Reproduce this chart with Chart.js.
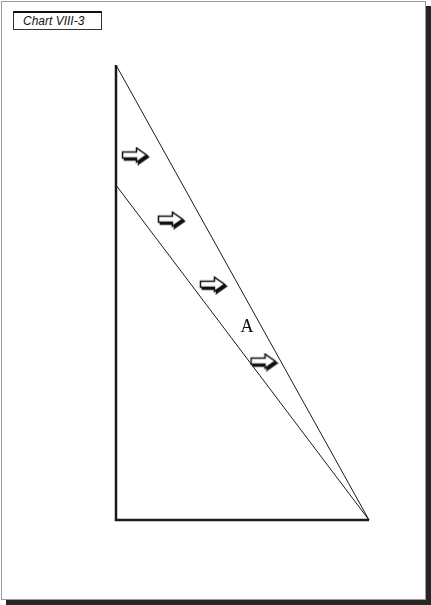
<!DOCTYPE html>
<html>
<head>
<meta charset="utf-8">
<script src="https://cdn.jsdelivr.net/npm/chart.js@4"></script>
<style>
  html, body { margin: 0; padding: 0; background: #fff; }
  #page {
    position: absolute; left: 1px; top: 1px; width: 425px; height: 599px;
    box-sizing: border-box; border: 1px solid #9a9a9a; background: #fff;
    box-shadow: 5px 5px 0 #262626;
  }
  #tag {
    position: absolute; left: 13px; top: 11px; width: 89px; height: 19px;
    box-sizing: border-box; border: 1px solid #333; border-top: 2px solid #111;
    font: italic 12px "Liberation Sans", Arial, sans-serif; color: #111;
    padding-left: 9px; line-height: 16px;
  }
  #wrap { position: absolute; left: 0; top: 0; width: 431px; height: 605px; }
</style>
</head>
<body>
<div id="page"></div>
<div id="tag">Chart VIII-3</div>
<div id="wrap"><canvas id="chartViii3"></canvas></div>
<script>
// Data (x = horizontal share, y = vertical share, both 0..10)
const axisPoints  = [[0, 10], [0, 0], [10, 0]];
const outerLine   = [[0, 10], [10, 0]];
const innerLine   = [[0, 7.36], [10, 0]];
const arrowPoints = [[0.77, 8.0], [2.19, 6.59], [3.85, 5.16], [5.85, 3.47]];
const labelText   = ['A'];
const labelPoints = [[5.18, 4.24]];

const toXY = arr => arr.map(p => ({ x: p[0], y: p[1] }));

// Hollow arrow with a dark drop shadow, used as point style
function makeArrow() {
    const c = document.createElement('canvas');
    c.width = 29; c.height = 19;
    const g = c.getContext('2d');
    const shape = (dx, dy) => {
        g.beginPath();
        g.moveTo(1.5 + dx, 5.5 + dy);
        g.lineTo(15.5 + dx, 5.5 + dy);
        g.lineTo(15.5 + dx, 1.5 + dy);
        g.lineTo(25.5 + dx, 8.5 + dy);
        g.lineTo(15.5 + dx, 15.5 + dy);
        g.lineTo(15.5 + dx, 11.5 + dy);
        g.lineTo(1.5 + dx, 11.5 + dy);
        g.closePath();
    };
    shape(2, 2);
    g.fillStyle = '#111'; g.fill();
    g.lineWidth = 1.6; g.strokeStyle = '#111'; g.stroke();
    shape(0, 0);
    g.fillStyle = '#fff'; g.fill();
    g.lineWidth = 1.5; g.strokeStyle = '#111'; g.stroke();
    return c;
}

const labelPlugin = {
    id: 'pointLabels',
    afterDatasetsDraw(chart) {
        const { ctx, scales } = chart;
        ctx.save();
        ctx.font = '18px "Liberation Serif", "Times New Roman", serif';
        ctx.fillStyle = '#111';
        ctx.textAlign = 'center';
        ctx.textBaseline = 'middle';
        labelPoints.forEach((p, i) => {
            ctx.fillText(labelText[i], scales.x.getPixelForValue(p[0]), scales.y.getPixelForValue(p[1]));
        });
        ctx.restore();
    }
};

const lineSet = (data, width) => ({
    data: toXY(data), showLine: true, borderColor: '#1a1a1a', borderWidth: width,
    pointRadius: 0, fill: false, clip: false, tension: 0
});

new Chart(document.getElementById('chartViii3'), {
    type: 'scatter',
    data: {
        datasets: [
            lineSet(axisPoints, 2.5),
            lineSet(outerLine, 1),
            lineSet(innerLine, 1),
            {
                data: toXY(arrowPoints), pointStyle: makeArrow(), pointRadius: 10,
                showLine: false, clip: false
            }
        ]
    },
    options: {
        responsive: true,
        maintainAspectRatio: false,
        animation: false,
        layout: { padding: { left: 116, top: 65, right: 62, bottom: 85 } },
        plugins: { legend: { display: false }, tooltip: { enabled: false } },
        scales: {
            x: { type: 'linear', min: 0, max: 10, display: false },
            y: { type: 'linear', min: 0, max: 10, display: false }
        }
    },
    plugins: [labelPlugin]
});
</script>
</body>
</html>
